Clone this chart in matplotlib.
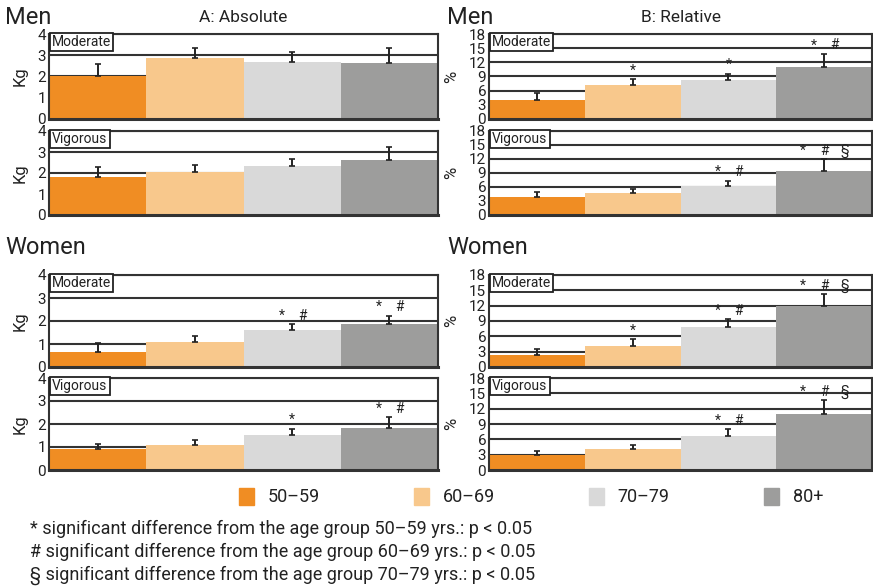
import matplotlib.pyplot as plt
from matplotlib.patches import Patch

plt.rcParams['font.family'] = ['Roboto', 'DejaVu Sans']

# Age groups and colours
groups = ['50–59', '60–69', '70–79', '80+']
colors = ['#F08D23', '#F8C88C', '#D9D9D9', '#9D9D9C']

# Bar heights (mean) and top of the error bar, per panel
men_abs_mod = [2.0, 2.86, 2.67, 2.62]
men_abs_mod_hi = [2.58, 3.36, 3.17, 3.36]
men_abs_vig = [1.83, 2.07, 2.32, 2.6]
men_abs_vig_hi = [2.3, 2.37, 2.65, 3.26]
men_rel_mod = [4.1, 7.1, 8.2, 11.0]
men_rel_mod_hi = [5.45, 8.5, 9.6, 13.8]
men_rel_vig = [3.85, 4.8, 6.25, 9.5]
men_rel_vig_hi = [4.85, 5.55, 7.35, 12.0]

women_abs_mod = [0.66, 1.07, 1.59, 1.86]
women_abs_mod_hi = [1.05, 1.34, 1.86, 2.23]
women_abs_vig = [0.92, 1.08, 1.52, 1.84]
women_abs_vig_hi = [1.13, 1.29, 1.8, 2.3]
women_rel_mod = [2.3, 4.2, 7.8, 12.0]
women_rel_mod_hi = [3.6, 5.4, 9.3, 14.2]
women_rel_vig = [3.0, 4.1, 6.6, 11.0]
women_rel_vig_hi = [3.8, 4.8, 8.0, 13.6]

# Significance markers
men_abs_mod_sig = ['', '', '', '']
men_abs_vig_sig = ['', '', '', '']
men_rel_mod_sig = ['', '*', '*', '*#']
men_rel_vig_sig = ['', '', '*#', '*#§']
women_abs_mod_sig = ['', '', '*#', '*#']
women_abs_vig_sig = ['', '', '*', '*#']
women_rel_mod_sig = ['', '*', '*#', '*#§']
women_rel_vig_sig = ['', '', '*#', '*#§']

W, H = 873, 588
fig = plt.figure(figsize=(W / 100, H / 100), dpi=100)

# pixel layout: (top, bottom) for each row, (left, right) for each column
rows = [(34, 119), (131, 215), (275, 367), (378, 470)]
cols = [(49, 438), (489, 872)]


def make_ax(row, col):
    t, b = rows[row]
    l, r = cols[col]
    return fig.add_axes([l / W, 1 - b / H, (r - l) / W, (b - t) / H])


def panel(ax, vals, hi, sig, label, ymax, step, ylab):
    x = range(len(vals))
    ax.bar(x, vals, width=1.0, color=colors, zorder=2)
    err = [h - v for v, h in zip(vals, hi)]
    ax.errorbar(x, vals, yerr=[[0] * len(vals), err], fmt='none', ecolor='#222222',
                elinewidth=1.4, capsize=2.5, capthick=1.2, zorder=3)
    ax.set_xlim(-0.5, len(vals) - 0.5)
    ax.set_ylim(0, ymax)
    ax.set_yticks(range(0, ymax + 1, step))
    ax.set_xticks([])
    ax.yaxis.grid(True, color='#333333', lw=1.5)
    ax.set_axisbelow(True)
    ax.tick_params(axis='y', length=0, pad=2, labelsize=11, labelcolor='#222222')
    for s in ax.spines.values():
        s.set_color('#333333')
        s.set_linewidth(1.5)
    ax.spines['bottom'].set_linewidth(2.2)
    ax.set_ylabel(ylab, fontsize=12, labelpad=7, color='#222222')
    ax.text(0.008, 0.985, label, transform=ax.transAxes, ha='left', va='top',
            fontsize=10, color='#222222', zorder=5,
            bbox=dict(boxstyle='square,pad=0.15', fc='white', ec='#222222', lw=1.3))
    # significance symbols above the error bars
    for i, s in enumerate(sig):
        n = len(s)
        for k, ch in enumerate(s):
            dx = (k - (n - 1) / 2) * 15
            ax.annotate(ch, (i, hi[i]), xytext=(dx, 1), textcoords='offset points',
                        ha='center', va='bottom', fontsize=10, color='#222222')


panel(make_ax(0, 0), men_abs_mod, men_abs_mod_hi, men_abs_mod_sig, 'Moderate', 4, 1, 'Kg')
panel(make_ax(1, 0), men_abs_vig, men_abs_vig_hi, men_abs_vig_sig, 'Vigorous', 4, 1, 'Kg')
panel(make_ax(0, 1), men_rel_mod, men_rel_mod_hi, men_rel_mod_sig, 'Moderate', 18, 3, '%')
panel(make_ax(1, 1), men_rel_vig, men_rel_vig_hi, men_rel_vig_sig, 'Vigorous', 18, 3, '%')
panel(make_ax(2, 0), women_abs_mod, women_abs_mod_hi, women_abs_mod_sig, 'Moderate', 4, 1, 'Kg')
panel(make_ax(3, 0), women_abs_vig, women_abs_vig_hi, women_abs_vig_sig, 'Vigorous', 4, 1, 'Kg')
panel(make_ax(2, 1), women_rel_mod, women_rel_mod_hi, women_rel_mod_sig, 'Moderate', 18, 3, '%')
panel(make_ax(3, 1), women_rel_vig, women_rel_vig_hi, women_rel_vig_sig, 'Vigorous', 18, 3, '%')

# headings
txt = '#222222'
fig.text(5 / W, 1 - 17 / H, 'Men', fontsize=17, va='center', color=txt)
fig.text(447 / W, 1 - 17 / H, 'Men', fontsize=17, va='center', color=txt)
fig.text(5 / W, 1 - 247 / H, 'Women', fontsize=17, va='center', color=txt)
fig.text(447 / W, 1 - 247 / H, 'Women', fontsize=17, va='center', color=txt)
fig.text(243 / W, 1 - 17 / H, 'A: Absolute', fontsize=12.5, ha='center', va='center', color=txt)
fig.text(681 / W, 1 - 17 / H, 'B: Relative', fontsize=12.5, ha='center', va='center', color=txt)

# legend
handles = [Patch(color=c) for c in colors]
fig.legend(handles, groups, loc='center', bbox_to_anchor=(531 / W, 1 - 497 / H), ncol=4,
           frameon=False, fontsize=13, handlelength=0.85, handleheight=1.1,
           handletextpad=0.75, columnspacing=5.2, labelcolor=txt)

# footnotes
notes = ['* significant difference from the age group 50–59 yrs.: p < 0.05',
         '# significant difference from the age group 60–69 yrs.: p < 0.05',
         '§ significant difference from the age group 70–79 yrs.: p < 0.05']
for j, note in enumerate(notes):
    fig.text(30 / W, 1 - (529 + 23 * j) / H, note, fontsize=13, va='center', color=txt)

fig.savefig('out.png', dpi=100)
